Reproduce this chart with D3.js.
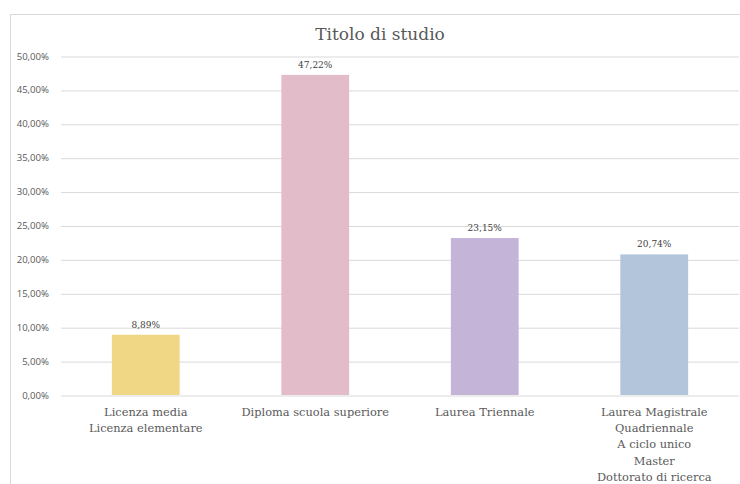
<!DOCTYPE html>
<html lang="it">
<head>
<meta charset="UTF-8">
<title>Titolo di studio</title>
<script src="https://cdn.jsdelivr.net/npm/d3@7"></script>
<style>
    body { margin: 0; background: #fff; }
    .grid line { stroke: #d9d9d9; stroke-width: 1; }
    .grid path { display: none; }
    .axis-y text { font-family: "Open Sans", "Liberation Sans", sans-serif; font-size: 9.6px; fill: #595959; }
    .axis-y path, .axis-y line { display: none; }
    .axis-x path, .axis-x line { display: none; }
    .axis-x text { font-family: "DejaVu Serif", serif; font-size: 11.4px; fill: #595959; }
</style>
</head>
<body>
<svg id="chart" width="740" height="484"></svg>
<script>
    var categories = [
        ["Licenza media", "Licenza elementare"],
        ["Diploma scuola superiore"],
        ["Laurea Triennale"],
        ["Laurea Magistrale", "Quadriennale", "A ciclo unico", "Master", "Dottorato di ricerca"]
    ];
    var values = [8.89, 47.22, 23.15, 20.74];
    var colors = ["#f0d785", "#e3bcca", "#c4b4d8", "#b2c5db"];
    var yTicks = [0, 5, 10, 15, 20, 25, 30, 35, 40, 45, 50];

    var svg = d3.select("#chart");

    // chart frame
    svg.append("rect")
        .attr("x", 10.5).attr("y", 14.5)
        .attr("width", 740).attr("height", 480)
        .attr("fill", "none").attr("stroke", "#d9d9d9");

    svg.append("text")
        .attr("x", 380).attr("y", 40)
        .attr("text-anchor", "middle")
        .style("font-family", "DejaVu Serif, serif")
        .style("font-size", "17px")
        .style("fill", "#595959")
        .text("Titolo di studio");

    var margin = {left: 61, right: 1, top: 56, bottom: 89};
    var width = 740 - margin.left - margin.right,
        height = 484 - margin.top - margin.bottom;

    var g = svg.append("g").attr("transform", "translate(" + margin.left + "," + margin.top + ")");

    var x = d3.scaleBand()
        .domain(d3.range(values.length))
        .range([0, width])
        .paddingInner(0.6)
        .paddingOuter(0.3);

    var y = d3.scaleLinear().domain([0, 50]).range([height, 0]);

    var fmt = function(v) { return v.toFixed(2).replace(".", ",") + "%"; };

    g.append("g")
        .attr("class", "grid")
        .call(d3.axisLeft(y).tickValues(yTicks).tickSize(-width).tickFormat(""))
        .selectAll("line").attr("transform", "translate(0,0.5)");

    g.append("g")
        .attr("class", "axis-y")
        .attr("transform", "translate(-9,0)")
        .call(d3.axisLeft(y).tickValues(yTicks).tickSize(0).tickFormat(fmt));

    g.selectAll(".bar")
        .data(values)
        .enter().append("rect")
        .attr("class", "bar")
        .attr("x", function(d, i) { return x(i); })
        .attr("y", function(d) { return y(d); })
        .attr("width", x.bandwidth())
        .attr("height", function(d) { return height - y(d); })
        .attr("fill", function(d, i) { return colors[i]; });

    g.selectAll(".lbl")
        .data(values)
        .enter().append("text")
        .attr("class", "lbl")
        .attr("x", function(d, i) { return x(i) + x.bandwidth() / 2; })
        .attr("y", function(d) { return y(d) - 7; })
        .attr("text-anchor", "middle")
        .style("font-family", "DejaVu Serif, serif")
        .style("font-size", "9px")
        .style("fill", "#404040")
        .text(fmt);

    var xa = g.append("g")
        .attr("class", "axis-x")
        .attr("transform", "translate(0," + height + ")")
        .call(d3.axisBottom(x).tickSize(0).tickFormat(""));

    xa.selectAll(".tick").each(function(d) {
        var t = d3.select(this).append("text")
            .attr("y", 21)
            .attr("text-anchor", "middle");
        categories[d].forEach(function(line, k) {
            t.append("tspan").attr("x", 0).attr("dy", k === 0 ? 0 : 16.2).text(line);
        });
    });
</script>
</body>
</html>
